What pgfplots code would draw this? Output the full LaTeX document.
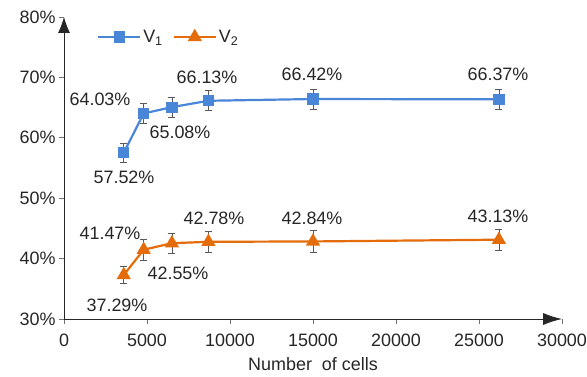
\documentclass[border=0pt]{standalone}
\usepackage{pgfplots}
\pgfplotsset{compat=1.18}
\usepackage{fontspec}
\setmainfont{Liberation Sans}
\usetikzlibrary{arrows.meta}
\definecolor{vblue}{RGB}{74,134,216}
\definecolor{vorange}{RGB}{228,108,10}
\begin{document}
\begin{tikzpicture}
\begin{axis}[
 at={(0,0)}, anchor=south west,
 scale only axis, width=498bp, height=302bp,
 xmin=0, xmax=30000, ymin=30, ymax=80,
 axis lines=left,
 axis line style={black!85, line width=0.8bp},
 x axis line style={-{Latex[length=19bp,width=12bp]}},
 y axis line style={-{Latex[length=16bp,width=12bp]}},
 xtick={0,5000,...,30000}, ytick={30,40,...,80},
 scaled x ticks=false,
 /pgf/number format/assume math mode=true,
 xticklabel style={yshift=-6bp, /pgf/number format/.cd, fixed, 1000 sep={}},
 yticklabel={\pgfmathprintnumber{\tick}\%},
 tick align=outside, major tick length=5bp,
 tick style={black!55, line width=0.6bp},
 ticklabel style={font=\fontsize{18}{21}\selectfont, text=black!85},
 xlabel={Number\ \ of cells},
 xlabel style={font=\fontsize{18}{21}\selectfont, text=black!85, yshift=-4bp},
 legend style={draw=none, fill=none, at={(rel axis cs:0.06,0.934)}, anchor=west,
   legend columns=2, font=\fontsize{18}{21}\selectfont, text=black!85,
   /tikz/every even column/.append style={column sep=8bp}},
 legend image code/.code={\draw[mark repeat=2,mark phase=2,#1] plot coordinates {(0bp,0bp)(21bp,0bp)(42bp,0bp)};},
 error bars/y dir=both, error bars/y explicit,
 error bars/error bar style={black!65, line width=0.6bp},
 error bars/error mark options={rotate=90, black!65, mark size=3.5bp, line width=0.6bp},
 clip=false,
]
\addplot[vblue, line width=2.2bp, mark=square*, mark size=4.5bp, mark options={solid, fill=vblue, draw=vblue}]
 coordinates {
 (3600,57.52) +- (0,1.5)
 (4800,64.03) +- (0,1.66)
 (6500,65.08) +- (0,1.66)
 (8700,66.13) +- (0,1.66)
 (15000,66.42) +- (0,1.66)
 (26200,66.37) +- (0,1.66)
 };
\addlegendentry{V\textsubscript{1}}
\addplot[vorange, line width=2.2bp, mark=triangle*, mark size=6bp, mark options={solid, fill=vorange, draw=vorange}]
 coordinates {
 (3600,37.29) +- (0,1.46)
 (4800,41.47) +- (0,1.8)
 (6500,42.55) +- (0,1.66)
 (8700,42.78) +- (0,1.8)
 (15000,42.84) +- (0,1.77)
 (26200,43.13) +- (0,1.77)
 };
\addlegendentry{V\textsubscript{2}}
\begin{scope}[every node/.style={font=\fontsize{18}{21}\selectfont, text=black!85, inner sep=0pt}]
\node at (axis cs:3614,53.4) {57.52\%};
\node at (axis cs:2169,66.3) {64.03\%};
\node at (axis cs:6988,60.85) {65.08\%};
\node at (axis cs:8614,69.97) {66.13\%};
\node at (axis cs:14940,70.46) {66.42\%};
\node at (axis cs:26145,70.46) {66.37\%};
\node at (axis cs:3193,32.3) {37.29\%};
\node at (axis cs:2771,44.26) {41.47\%};
\node at (axis cs:6867,37.63) {42.55\%};
\node at (axis cs:9036,46.75) {42.78\%};
\node at (axis cs:14940,46.75) {42.84\%};
\node at (axis cs:26145,47.08) {43.13\%};
\end{scope}
\end{axis}
\pgfresetboundingbox
\path[use as bounding box] (-64bp,-58bp) rectangle (523bp,319bp);
\end{tikzpicture}
\end{document}
